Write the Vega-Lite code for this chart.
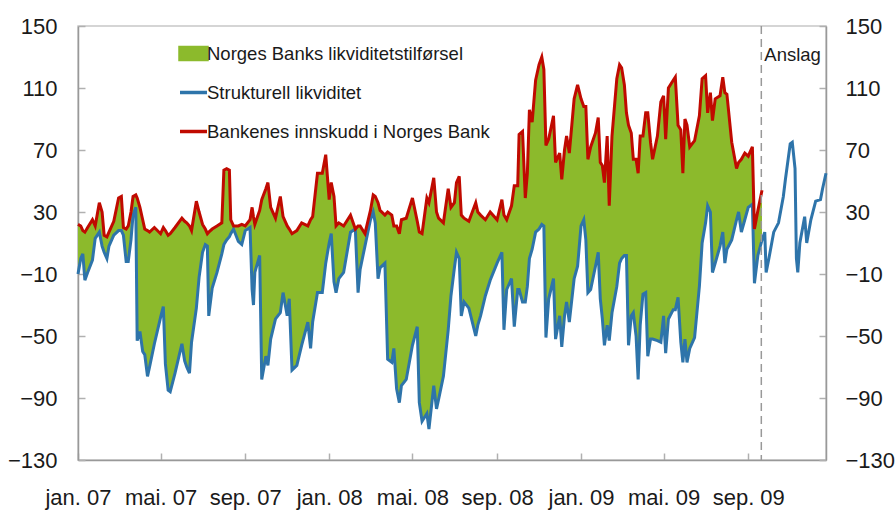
{
  "$schema": "https://vega.github.io/schema/vega-lite/v6.json",
  "width": 748,
  "height": 434,
  "autosize": {"type": "none"},
  "padding": {"left": 78, "top": 26, "right": 70, "bottom": 51},
  "background": "white",
  "config": {
    "view": {"stroke": "#c8c8c8", "strokeWidth": 1.5},
    "font": "Liberation Sans",
    "axis": {
      "grid": false,
      "domainColor": "#999999",
      "domainWidth": 1.5,
      "tickColor": "#b0b0b0",
      "tickWidth": 1.5,
      "tickSize": -7,
      "labelFont": "Liberation Sans",
      "labelFontSize": 22,
      "labelColor": "#1a1a1a",
      "title": null
    },
    "legend": {
      "orient": "none", "legendX": 100, "legendY": 12,
      "title": null, "padding": 0,
      "labelFont": "Liberation Sans", "labelFontSize": 18.5, "labelColor": "#1a1a1a",
      "labelLimit": 0, "labelOffset": -2,
      "symbolSize": 729, "symbolStrokeWidth": 3.5,
      "gridAlign": "all",
      "rowPadding": 10
    }
  },
  "datasets": {
    "likviditet": [
      {"date": "2007-01-01", "innskudd": 22, "struktur": -10},
      {"date": "2007-01-05", "innskudd": 21, "struktur": 0},
      {"date": "2007-01-08", "innskudd": 18, "struktur": 3},
      {"date": "2007-01-11", "innskudd": 17, "struktur": -14},
      {"date": "2007-01-15", "innskudd": 20, "struktur": -9},
      {"date": "2007-01-22", "innskudd": 25, "struktur": -1},
      {"date": "2007-01-26", "innskudd": 21, "struktur": 13},
      {"date": "2007-02-01", "innskudd": 36, "struktur": 17},
      {"date": "2007-02-05", "innskudd": 30, "struktur": 8},
      {"date": "2007-02-08", "innskudd": 15, "struktur": 4},
      {"date": "2007-02-12", "innskudd": 14, "struktur": 0},
      {"date": "2007-02-15", "innskudd": 17, "struktur": 8},
      {"date": "2007-02-22", "innskudd": 24, "struktur": 15},
      {"date": "2007-03-01", "innskudd": 39, "struktur": 18},
      {"date": "2007-03-05", "innskudd": 40, "struktur": 18},
      {"date": "2007-03-08", "innskudd": 20, "struktur": 15},
      {"date": "2007-03-12", "innskudd": 19, "struktur": -2},
      {"date": "2007-03-15", "innskudd": 21, "struktur": -2},
      {"date": "2007-03-19", "innskudd": 30, "struktur": 12},
      {"date": "2007-03-22", "innskudd": 40, "struktur": 28},
      {"date": "2007-03-26", "innskudd": 41, "struktur": 33},
      {"date": "2007-03-28", "innskudd": 39, "struktur": -53},
      {"date": "2007-04-01", "innskudd": 33, "struktur": -47},
      {"date": "2007-04-05", "innskudd": 25, "struktur": -60},
      {"date": "2007-04-08", "innskudd": 19, "struktur": -62},
      {"date": "2007-04-12", "innskudd": 18, "struktur": -76},
      {"date": "2007-04-15", "innskudd": 17, "struktur": -70},
      {"date": "2007-04-22", "innskudd": 20, "struktur": -55},
      {"date": "2007-05-01", "innskudd": 16, "struktur": -38},
      {"date": "2007-05-05", "innskudd": 20, "struktur": -31},
      {"date": "2007-05-08", "innskudd": 18, "struktur": -68},
      {"date": "2007-05-12", "innskudd": 15, "struktur": -85},
      {"date": "2007-05-15", "innskudd": 16, "struktur": -86},
      {"date": "2007-05-22", "innskudd": 20, "struktur": -74},
      {"date": "2007-06-01", "innskudd": 26, "struktur": -55},
      {"date": "2007-06-05", "innskudd": 24, "struktur": -66},
      {"date": "2007-06-08", "innskudd": 23, "struktur": -70},
      {"date": "2007-06-12", "innskudd": 21, "struktur": -74},
      {"date": "2007-06-15", "innskudd": 18, "struktur": -54},
      {"date": "2007-06-22", "innskudd": 37, "struktur": -32},
      {"date": "2007-06-26", "innskudd": 30, "struktur": -12},
      {"date": "2007-07-01", "innskudd": 22, "struktur": 4},
      {"date": "2007-07-05", "innskudd": 19, "struktur": 9},
      {"date": "2007-07-08", "innskudd": 16, "struktur": 8},
      {"date": "2007-07-10", "innskudd": 17, "struktur": -37},
      {"date": "2007-07-15", "innskudd": 19, "struktur": -19},
      {"date": "2007-07-22", "innskudd": 21, "struktur": -9},
      {"date": "2007-07-29", "innskudd": 23, "struktur": 3},
      {"date": "2007-08-01", "innskudd": 57, "struktur": 9},
      {"date": "2007-08-05", "innskudd": 58, "struktur": 12},
      {"date": "2007-08-09", "innskudd": 57, "struktur": 14},
      {"date": "2007-08-11", "innskudd": 25, "struktur": 16},
      {"date": "2007-08-15", "innskudd": 21, "struktur": 19},
      {"date": "2007-08-22", "innskudd": 21, "struktur": 11},
      {"date": "2007-08-27", "innskudd": 22, "struktur": 9},
      {"date": "2007-09-01", "innskudd": 21, "struktur": 18},
      {"date": "2007-09-08", "innskudd": 25, "struktur": 20},
      {"date": "2007-09-11", "innskudd": 33, "struktur": -20},
      {"date": "2007-09-13", "innskudd": 27, "struktur": -30},
      {"date": "2007-09-15", "innskudd": 22, "struktur": -9},
      {"date": "2007-09-22", "innskudd": 31, "struktur": 2},
      {"date": "2007-09-25", "innskudd": 38, "struktur": -78},
      {"date": "2007-10-01", "innskudd": 45, "struktur": -63},
      {"date": "2007-10-04", "innskudd": 49, "struktur": -69},
      {"date": "2007-10-08", "innskudd": 33, "struktur": -52},
      {"date": "2007-10-15", "innskudd": 26, "struktur": -39},
      {"date": "2007-10-22", "innskudd": 40, "struktur": -35},
      {"date": "2007-10-26", "innskudd": 27, "struktur": -22},
      {"date": "2007-11-01", "innskudd": 21, "struktur": -37},
      {"date": "2007-11-04", "innskudd": 19, "struktur": -26},
      {"date": "2007-11-08", "innskudd": 16, "struktur": -72},
      {"date": "2007-11-15", "innskudd": 18, "struktur": -69},
      {"date": "2007-11-22", "innskudd": 23, "struktur": -56},
      {"date": "2007-12-01", "innskudd": 21, "struktur": -41},
      {"date": "2007-12-05", "innskudd": 25, "struktur": -58},
      {"date": "2007-12-08", "innskudd": 27, "struktur": -41},
      {"date": "2007-12-15", "innskudd": 55, "struktur": -22},
      {"date": "2007-12-22", "innskudd": 55, "struktur": -22},
      {"date": "2007-12-27", "innskudd": 67, "struktur": -3},
      {"date": "2008-01-01", "innskudd": 38, "struktur": 10},
      {"date": "2008-01-04", "innskudd": 49, "struktur": 16},
      {"date": "2008-01-08", "innskudd": 40, "struktur": -15},
      {"date": "2008-01-11", "innskudd": 21, "struktur": -22},
      {"date": "2008-01-15", "innskudd": 23, "struktur": -13},
      {"date": "2008-01-22", "innskudd": 21, "struktur": -9},
      {"date": "2008-02-01", "innskudd": 28, "struktur": 17},
      {"date": "2008-02-08", "innskudd": 19, "struktur": 19},
      {"date": "2008-02-12", "innskudd": 21, "struktur": -22},
      {"date": "2008-02-15", "innskudd": 21, "struktur": -7},
      {"date": "2008-02-22", "innskudd": 16, "struktur": 8},
      {"date": "2008-03-01", "innskudd": 31, "struktur": 25},
      {"date": "2008-03-05", "innskudd": 41, "struktur": 30},
      {"date": "2008-03-08", "innskudd": 40, "struktur": 23},
      {"date": "2008-03-12", "innskudd": 36, "struktur": -13},
      {"date": "2008-03-15", "innskudd": 31, "struktur": -6},
      {"date": "2008-03-22", "innskudd": 28, "struktur": -3},
      {"date": "2008-03-26", "innskudd": 30, "struktur": -65},
      {"date": "2008-04-01", "innskudd": 28, "struktur": -67},
      {"date": "2008-04-04", "innskudd": 21, "struktur": -58},
      {"date": "2008-04-08", "innskudd": 21, "struktur": -84},
      {"date": "2008-04-12", "innskudd": 16, "struktur": -93},
      {"date": "2008-04-15", "innskudd": 25, "struktur": -82},
      {"date": "2008-04-22", "innskudd": 26, "struktur": -78},
      {"date": "2008-05-01", "innskudd": 39, "struktur": -56},
      {"date": "2008-05-08", "innskudd": 24, "struktur": -44},
      {"date": "2008-05-11", "innskudd": 17, "struktur": -93},
      {"date": "2008-05-15", "innskudd": 16, "struktur": -105},
      {"date": "2008-05-22", "innskudd": 39, "struktur": -100},
      {"date": "2008-05-25", "innskudd": 36, "struktur": -110},
      {"date": "2008-06-01", "innskudd": 52, "struktur": -82},
      {"date": "2008-06-05", "innskudd": 30, "struktur": -97},
      {"date": "2008-06-08", "innskudd": 26, "struktur": -91},
      {"date": "2008-06-15", "innskudd": 23, "struktur": -76},
      {"date": "2008-06-22", "innskudd": 45, "struktur": -46},
      {"date": "2008-06-26", "innskudd": 33, "struktur": -24},
      {"date": "2008-07-01", "innskudd": 36, "struktur": -6},
      {"date": "2008-07-04", "innskudd": 49, "struktur": 4},
      {"date": "2008-07-08", "innskudd": 53, "struktur": 0},
      {"date": "2008-07-11", "innskudd": 28, "struktur": -37},
      {"date": "2008-07-15", "innskudd": 26, "struktur": -28},
      {"date": "2008-07-22", "innskudd": 24, "struktur": -32},
      {"date": "2008-08-01", "innskudd": 36, "struktur": -50},
      {"date": "2008-08-04", "innskudd": 30, "struktur": -43},
      {"date": "2008-08-08", "innskudd": 28, "struktur": -37},
      {"date": "2008-08-15", "innskudd": 25, "struktur": -24},
      {"date": "2008-08-22", "innskudd": 30, "struktur": -14},
      {"date": "2008-09-01", "innskudd": 25, "struktur": -3},
      {"date": "2008-09-08", "innskudd": 38, "struktur": 4},
      {"date": "2008-09-11", "innskudd": 28, "struktur": -46},
      {"date": "2008-09-15", "innskudd": 25, "struktur": -20},
      {"date": "2008-09-22", "innskudd": 34, "struktur": -13},
      {"date": "2008-09-26", "innskudd": 47, "struktur": -44},
      {"date": "2008-10-01", "innskudd": 47, "struktur": -20},
      {"date": "2008-10-03", "innskudd": 80, "struktur": -20},
      {"date": "2008-10-08", "innskudd": 82, "struktur": -28},
      {"date": "2008-10-12", "innskudd": 39, "struktur": -28},
      {"date": "2008-10-15", "innskudd": 55, "struktur": -18},
      {"date": "2008-10-18", "innskudd": 96, "struktur": 0},
      {"date": "2008-10-22", "innskudd": 88, "struktur": 6},
      {"date": "2008-10-27", "innskudd": 115, "struktur": 17},
      {"date": "2008-11-01", "innskudd": 125, "struktur": 19},
      {"date": "2008-11-05", "innskudd": 130, "struktur": 22},
      {"date": "2008-11-08", "innskudd": 122, "struktur": 21},
      {"date": "2008-11-11", "innskudd": 73, "struktur": -51},
      {"date": "2008-11-15", "innskudd": 77, "struktur": -26},
      {"date": "2008-11-22", "innskudd": 92, "struktur": -13},
      {"date": "2008-11-25", "innskudd": 62, "struktur": -52},
      {"date": "2008-12-01", "innskudd": 68, "struktur": -37},
      {"date": "2008-12-04", "innskudd": 51, "struktur": -57},
      {"date": "2008-12-08", "innskudd": 70, "struktur": -37},
      {"date": "2008-12-11", "innskudd": 79, "struktur": -28},
      {"date": "2008-12-15", "innskudd": 68, "struktur": -41},
      {"date": "2008-12-22", "innskudd": 103, "struktur": -13},
      {"date": "2008-12-27", "innskudd": 112, "struktur": -5},
      {"date": "2009-01-01", "innskudd": 103, "struktur": 21},
      {"date": "2009-01-05", "innskudd": 98, "struktur": 25},
      {"date": "2009-01-08", "innskudd": 98, "struktur": 12},
      {"date": "2009-01-11", "innskudd": 64, "struktur": -22},
      {"date": "2009-01-15", "innskudd": 72, "struktur": -20},
      {"date": "2009-01-22", "innskudd": 81, "struktur": -5},
      {"date": "2009-01-26", "innskudd": 91, "struktur": 4},
      {"date": "2009-01-29", "innskudd": 62, "struktur": -26},
      {"date": "2009-02-01", "innskudd": 60, "struktur": -39},
      {"date": "2009-02-04", "innskudd": 49, "struktur": -56},
      {"date": "2009-02-08", "innskudd": 79, "struktur": -43},
      {"date": "2009-02-11", "innskudd": 34, "struktur": -53},
      {"date": "2009-02-15", "innskudd": 79, "struktur": -35},
      {"date": "2009-02-22", "innskudd": 116, "struktur": -18},
      {"date": "2009-02-26", "innskudd": 125, "struktur": -3},
      {"date": "2009-03-01", "innskudd": 123, "struktur": 0},
      {"date": "2009-03-05", "innskudd": 112, "struktur": 2},
      {"date": "2009-03-08", "innskudd": 94, "struktur": 2},
      {"date": "2009-03-11", "innskudd": 86, "struktur": -56},
      {"date": "2009-03-15", "innskudd": 81, "struktur": -37},
      {"date": "2009-03-18", "innskudd": 64, "struktur": -35},
      {"date": "2009-03-22", "innskudd": 64, "struktur": -50},
      {"date": "2009-03-25", "innskudd": 55, "struktur": -78},
      {"date": "2009-03-28", "innskudd": 79, "struktur": -43},
      {"date": "2009-04-01", "innskudd": 79, "struktur": -23},
      {"date": "2009-04-05", "innskudd": 94, "struktur": -22},
      {"date": "2009-04-08", "innskudd": 94, "struktur": -63},
      {"date": "2009-04-12", "innskudd": 75, "struktur": -52},
      {"date": "2009-04-15", "innskudd": 64, "struktur": -52},
      {"date": "2009-04-22", "innskudd": 79, "struktur": -53},
      {"date": "2009-04-27", "innskudd": 101, "struktur": -54},
      {"date": "2009-05-01", "innskudd": 105, "struktur": -37},
      {"date": "2009-05-04", "innskudd": 77, "struktur": -61},
      {"date": "2009-05-08", "innskudd": 110, "struktur": -39},
      {"date": "2009-05-15", "innskudd": 115, "struktur": -33},
      {"date": "2009-05-18", "innskudd": 117, "struktur": -33},
      {"date": "2009-05-22", "innskudd": 86, "struktur": -25},
      {"date": "2009-05-26", "innskudd": 83, "struktur": -54},
      {"date": "2009-05-29", "innskudd": 55, "struktur": -67},
      {"date": "2009-06-01", "innskudd": 90, "struktur": -52},
      {"date": "2009-06-04", "innskudd": 86, "struktur": -67},
      {"date": "2009-06-08", "innskudd": 72, "struktur": -58},
      {"date": "2009-06-15", "innskudd": 76, "struktur": -51},
      {"date": "2009-06-22", "innskudd": 92, "struktur": -18},
      {"date": "2009-06-26", "innskudd": 116, "struktur": 10},
      {"date": "2009-07-01", "innskudd": 118, "struktur": 23},
      {"date": "2009-07-04", "innskudd": 94, "struktur": 34},
      {"date": "2009-07-08", "innskudd": 107, "struktur": 30},
      {"date": "2009-07-11", "innskudd": 89, "struktur": -9},
      {"date": "2009-07-15", "innskudd": 103, "struktur": -3},
      {"date": "2009-07-22", "innskudd": 105, "struktur": 8},
      {"date": "2009-07-26", "innskudd": 117, "struktur": 17},
      {"date": "2009-07-29", "innskudd": 107, "struktur": -3},
      {"date": "2009-08-01", "innskudd": 106, "struktur": 6},
      {"date": "2009-08-08", "innskudd": 75, "struktur": 12},
      {"date": "2009-08-15", "innskudd": 58, "struktur": 25},
      {"date": "2009-08-18", "innskudd": 62, "struktur": 30},
      {"date": "2009-08-22", "innskudd": 64, "struktur": 17},
      {"date": "2009-08-27", "innskudd": 68, "struktur": 25},
      {"date": "2009-09-01", "innskudd": 66, "struktur": 33},
      {"date": "2009-09-07", "innskudd": 72, "struktur": 35},
      {"date": "2009-09-10", "innskudd": 19, "struktur": -16},
      {"date": "2009-09-15", "innskudd": 31, "struktur": 2},
      {"date": "2009-09-21", "innskudd": 44, "struktur": 12},
      {"date": "2009-09-25", "innskudd": null, "struktur": 17},
      {"date": "2009-09-27", "innskudd": null, "struktur": -9},
      {"date": "2009-10-01", "innskudd": null, "struktur": 0},
      {"date": "2009-10-08", "innskudd": null, "struktur": 17},
      {"date": "2009-10-15", "innskudd": null, "struktur": 23},
      {"date": "2009-10-22", "innskudd": null, "struktur": 40},
      {"date": "2009-10-25", "innskudd": null, "struktur": 51},
      {"date": "2009-11-01", "innskudd": null, "struktur": 74},
      {"date": "2009-11-04", "innskudd": null, "struktur": 75},
      {"date": "2009-11-08", "innskudd": null, "struktur": 58},
      {"date": "2009-11-10", "innskudd": null, "struktur": 0},
      {"date": "2009-11-12", "innskudd": null, "struktur": -9},
      {"date": "2009-11-15", "innskudd": null, "struktur": 10},
      {"date": "2009-11-22", "innskudd": null, "struktur": 27},
      {"date": "2009-11-25", "innskudd": null, "struktur": 10},
      {"date": "2009-12-01", "innskudd": null, "struktur": 25},
      {"date": "2009-12-08", "innskudd": null, "struktur": 37},
      {"date": "2009-12-15", "innskudd": null, "struktur": 38},
      {"date": "2009-12-18", "innskudd": null, "struktur": 45},
      {"date": "2009-12-23", "innskudd": null, "struktur": 55}
    ],
    "anslag": [
      {"date": "2009-09-20", "label": "Anslag"}
    ]
  },
  "layer": [
    {
      "data": {"name": "likviditet"},
      "transform": [{"filter": "isValid(datum.innskudd)"}],
      "mark": {"type": "area", "opacity": 1},
      "encoding": {
        "x": {
          "field": "date", "type": "temporal",
          "scale": {"type": "utc", "domain": [{"year": 2007, "month": 1, "date": 1, "utc": true}, {"year": 2009, "month": 12, "date": 23, "utc": true}]},
          "axis": {
            "values": [
              {"year": 2007, "month": 1, "date": 1, "utc": true},
              {"year": 2007, "month": 5, "date": 1, "utc": true},
              {"year": 2007, "month": 9, "date": 1, "utc": true},
              {"year": 2008, "month": 1, "date": 1, "utc": true},
              {"year": 2008, "month": 5, "date": 1, "utc": true},
              {"year": 2008, "month": 9, "date": 1, "utc": true},
              {"year": 2009, "month": 1, "date": 1, "utc": true},
              {"year": 2009, "month": 5, "date": 1, "utc": true},
              {"year": 2009, "month": 9, "date": 1, "utc": true}
            ],
            "labelExpr": "['jan.','feb.','mar.','apr.','mai.','jun.','jul.','aug.','sep.','okt.','nov.','des.'][utcmonth(datum.value)] + ' ' + utcFormat(datum.value, '%y')",
            "labelFlush": false,
            "labelOverlap": false,
            "labelBound": false,
            "labelPadding": 34
          }
        },
        "y": {
          "field": "innskudd", "type": "quantitative",
          "scale": {"domain": [-130, 150], "nice": false, "zero": false},
          "axis": {"orient": "left", "values": [-130, -90, -50, -10, 30, 70, 110, 150], "labelPadding": 28}
        },
        "y2": {"field": "struktur"},
        "color": {
          "datum": "Norges Banks likviditetstilførsel", "type": "nominal",
          "scale": {
            "domain": ["Norges Banks likviditetstilførsel", "Strukturell likviditet", "Bankenes innskudd i Norges Bank"],
            "range": ["#8CBA2C", "#2E74AA", "#C00A00"]
          },
          "legend": {
            "symbolType": "stroke",
            "encode": {
              "symbols": {
                "update": {
                  "shape": {"signal": "datum.value === 'Norges Banks likviditetstilførsel' ? 'M-1,-0.44H1V0.44H-1Z' : 'stroke'"},
                  "fill": {"signal": "datum.value === 'Norges Banks likviditetstilførsel' ? '#8CBA2C' : 'transparent'"},
                  "stroke": {"signal": "datum.value === 'Norges Banks likviditetstilførsel' ? 'transparent' : (datum.value === 'Strukturell likviditet' ? '#2E74AA' : '#C00A00')"},
                  "strokeWidth": {"value": 3.5},
                  "opacity": {"value": 1}
                }
              }
            }
          }
        }
      }
    },
    {
      "mark": {"type": "rule", "color": "#8a8a8a", "strokeWidth": 1.3},
      "encoding": {
        "y": {"datum": 0, "type": "quantitative", "axis": {"orient": "right", "values": [-130, -90, -50, -10, 30, 70, 110, 150], "labelPadding": 26}}
      }
    },
    {
      "data": {"name": "likviditet"},
      "mark": {"type": "line", "strokeWidth": 3},
      "encoding": {
        "x": {"field": "date", "type": "temporal"},
        "y": {"field": "struktur", "type": "quantitative", "axis": null},
        "color": {
          "datum": "Strukturell likviditet", "type": "nominal",
          "legend": {
            "symbolType": "stroke",
            "encode": {
              "symbols": {
                "update": {
                  "shape": {"signal": "datum.value === 'Norges Banks likviditetstilførsel' ? 'M-1,-0.44H1V0.44H-1Z' : 'stroke'"},
                  "fill": {"signal": "datum.value === 'Norges Banks likviditetstilførsel' ? '#8CBA2C' : 'transparent'"},
                  "stroke": {"signal": "datum.value === 'Norges Banks likviditetstilførsel' ? 'transparent' : (datum.value === 'Strukturell likviditet' ? '#2E74AA' : '#C00A00')"},
                  "strokeWidth": {"value": 3.5},
                  "opacity": {"value": 1}
                }
              }
            }
          }
        }
      }
    },
    {
      "data": {"name": "likviditet"},
      "transform": [{"filter": "isValid(datum.innskudd)"}],
      "mark": {"type": "line", "strokeWidth": 3},
      "encoding": {
        "x": {"field": "date", "type": "temporal"},
        "y": {"field": "innskudd", "type": "quantitative", "axis": null},
        "color": {
          "datum": "Bankenes innskudd i Norges Bank", "type": "nominal",
          "legend": {
            "symbolType": "stroke",
            "encode": {
              "symbols": {
                "update": {
                  "shape": {"signal": "datum.value === 'Norges Banks likviditetstilførsel' ? 'M-1,-0.44H1V0.44H-1Z' : 'stroke'"},
                  "fill": {"signal": "datum.value === 'Norges Banks likviditetstilførsel' ? '#8CBA2C' : 'transparent'"},
                  "stroke": {"signal": "datum.value === 'Norges Banks likviditetstilførsel' ? 'transparent' : (datum.value === 'Strukturell likviditet' ? '#2E74AA' : '#C00A00')"},
                  "strokeWidth": {"value": 3.5},
                  "opacity": {"value": 1}
                }
              }
            }
          }
        }
      }
    },
    {
      "data": {"name": "anslag"},
      "mark": {"type": "rule", "color": "#999999", "strokeWidth": 1.5, "strokeDash": [8, 5]},
      "encoding": {
        "x": {"field": "date", "type": "temporal"}
      }
    },
    {
      "data": {"name": "anslag"},
      "mark": {"type": "text", "align": "left", "baseline": "middle", "dx": 3, "font": "Liberation Sans", "fontSize": 18.5, "color": "#1a1a1a"},
      "encoding": {
        "x": {"field": "date", "type": "temporal"},
        "y": {"datum": 131, "type": "quantitative", "axis": null},
        "text": {"field": "label"}
      }
    }
  ],
  "resolve": {"axis": {"y": "independent"}}
}
